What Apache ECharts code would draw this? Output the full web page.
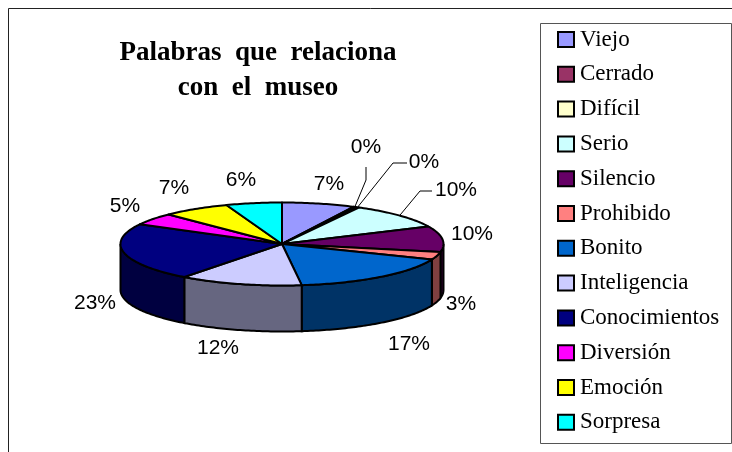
<!DOCTYPE html>
<html>
<head>
<meta charset="utf-8">
<style>
html, body { margin: 0; padding: 0; background: #fff; }
#chart { width: 732px; height: 452px; }
</style>
<script src="https://cdn.jsdelivr.net/npm/echarts@6/dist/echarts.min.js"></script>
</head>
<body>
<div id="chart"></div>
<script>
// datos
var categories = ['Viejo', 'Cerrado', 'Difícil', 'Serio', 'Silencio', 'Prohibido', 'Bonito', 'Inteligencia', 'Conocimientos', 'Diversión', 'Emoción', 'Sorpresa'];
var values = [7.3, 0.3, 0.3, 10.2, 10, 3, 17, 12.3, 22.6, 4.7, 6.8, 5.6];
var colors = ['#9999FF', '#993366', '#FFFFCC', '#CCFFFF', '#660066', '#FF8080', '#0066CC', '#CCCCFF', '#000080', '#FF00FF', '#FFFF00', '#00FFFF'];
var sideColors = ['#4C4C80', '#4C1933', '#808066', '#668080', '#330033', '#804040', '#003366', '#666680', '#000040', '#800080', '#808000', '#008080'];

// posicion de las etiquetas y lineas guia
var labelPos = [[329, 184], [366, 147], [424, 162], [456, 190], [472, 234], [461, 304], [409, 344], [218, 348], [95, 303], [125, 206], [174, 188], [241, 180]];
var leaders = { 1: [[366, 180], [366, 167]], 2: [[393, 163], [407, 163]], 3: [[420, 191], [432, 191]] };

var cx = 282, cy = 244, rx = 161.5, ry = 41.5, depth = 46;
var total = values.reduce(function (a, b) { return a + b; }, 0);

function topPoint(deg, dy) {
	var r = deg * Math.PI / 180;
	return [cx + rx * Math.sin(r), cy - ry * Math.cos(r) + (dy || 0)];
}

function arcPoints(a0, a1, dy) {
	var pts = [];
	for (var a = a0; a < a1; a += 1) pts.push(topPoint(a, dy));
	pts.push(topPoint(a1, dy));
	return pts;
}

function makeRender(index) {
	return function (params, api) {
		var before = 0;
		for (var i = 0; i < index; i++) before += values[i];
		var a0 = before / total * 360;
		var a1 = a0 + api.value(0) / total * 360;
		var children = [];

		// lateral, solo la mitad de adelante
		var s0 = Math.max(a0, 90), s1 = Math.min(a1, 270);
		if (s1 > s0) {
			children.push({
				type: 'polygon',
				shape: { points: arcPoints(s0, s1, 0).concat(arcPoints(s0, s1, depth).reverse()) },
				style: { fill: sideColors[index], stroke: '#000', lineWidth: 2 }
			});
		}
		children.push({
			type: 'polygon',
			shape: { points: [[cx, cy]].concat(arcPoints(a0, a1, 0)) },
			style: { fill: colors[index], stroke: '#000', lineWidth: 2, lineJoin: 'round' }
		});

		var pos = labelPos[index];
		if (leaders[index]) {
			var start = topPoint((a0 + a1) / 2, 0);
			children.push({
				type: 'polyline',
				shape: { points: [start].concat(leaders[index]) },
				style: { fill: null, stroke: '#000', lineWidth: 1 }
			});
		}
		children.push({
			type: 'text',
			style: {
				text: Math.round(api.value(0) / total * 100) + '%',
				x: pos[0], y: pos[1],
				align: 'center', verticalAlign: 'middle',
				fill: '#000',
				font: '21px "Liberation Sans", Arial, sans-serif'
			}
		});
		return { type: 'group', children: children };
	};
}

var series = categories.map(function (name, i) {
	return {
		name: name,
		type: 'custom',
		coordinateSystem: 'none',
		silent: true,
		animation: false,
		itemStyle: { color: colors[i] },
		data: [[values[i]]],
		renderItem: makeRender(i),
		z: 2
	};
});

var myChart = echarts.init(document.getElementById('chart'), null, { renderer: 'canvas' });
myChart.setOption({
	backgroundColor: '#fff',
	animation: false,
	title: {
		text: 'Palabras  que  relaciona\ncon  el  museo',
		left: 258,
		top: 31,
		textAlign: 'center',
		textStyle: {
			fontFamily: '"Liberation Serif", "Times New Roman", serif',
			fontSize: 27,
			fontWeight: 'bold',
			color: '#000',
			lineHeight: 35
		}
	},
	legend: {
		orient: 'vertical',
		left: 557,
		top: 28,
		padding: 0,
		itemWidth: 16,
		itemHeight: 15,
		itemGap: 11.8,
		icon: 'rect',
		selectedMode: false,
		data: categories,
		itemStyle: { borderColor: '#000', borderWidth: 2 },
		textStyle: {
			fontFamily: '"Liberation Serif", "Times New Roman", serif',
			fontSize: 23,
			lineHeight: 23,
			color: '#000',
			padding: [0, 0, 0, 1]
		}
	},
	graphic: [
		{ type: 'polyline', silent: true, shape: { points: [[8.5, 452], [8.5, 8.5], [732, 8.5]] }, style: { fill: null, stroke: '#222', lineWidth: 1 } },
		{ type: 'rect', silent: true, z: -1, shape: { x: 540.5, y: 23.5, width: 191, height: 420 }, style: { fill: '#fff', stroke: '#555', lineWidth: 1 } }
	],
	series: series
});
// el titulo queda centrado un poco mas a la izquierda
myChart.setOption({ title: { left: 253 } });
</script>
</body>
</html>
